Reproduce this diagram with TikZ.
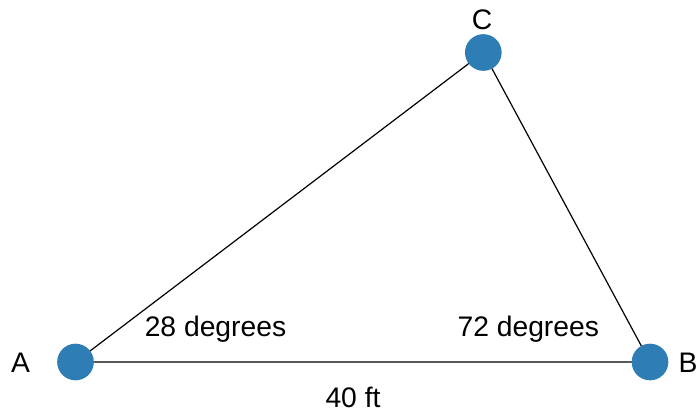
\documentclass[tikz,border=0pt]{standalone}
\usepackage{fontspec}
\setmainfont{Liberation Sans}
\definecolor{dotblue}{RGB}{46,125,180}
\tikzset{
  vertex/.style={circle, fill=dotblue, draw=none, minimum size=27.5pt, inner sep=0pt},
  lbl/.style={font=\fontsize{21.2}{25}\selectfont, anchor=base, inner sep=0pt},
  side/.style={draw=black, line width=0.9pt}
}
\begin{document}
\begin{tikzpicture}[x=0.75pt, y=-0.75pt]
\useasboundingbox (0,0) rectangle (698,414);
% vertices
\coordinate (pA) at (75.5,362);
\coordinate (pB) at (650,362);
\coordinate (pC) at (483.3,52.5);
% sides
\draw[side] (pA) -- (pB) -- (pC) -- cycle;
\node[vertex] (A) at (pA) {};
\node[vertex] (B) at (pB) {};
\node[vertex] (C) at (pC) {};
% labels
\node[lbl] (labA) at (20.5,372) {A};
\node[lbl] (labB) at (688,372) {B};
\node[lbl] (labC) at (482,29) {C};
\node[lbl] (angA) at (215.5,336) {28 degrees};
\node[lbl] (angB) at (528.3,336) {72 degrees};
\node[lbl] (base) at (353,407.3) {40 ft};
\end{tikzpicture}
\end{document}
